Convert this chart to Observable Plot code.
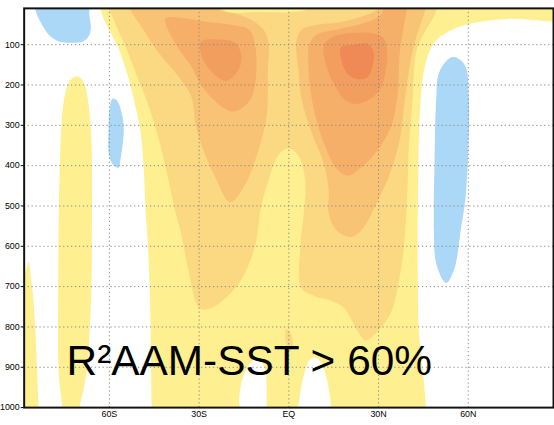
<!DOCTYPE html>
<html><head><meta charset="utf-8">
<script src="https://cdn.jsdelivr.net/npm/d3@7"></script>
<script src="https://cdn.jsdelivr.net/npm/@observablehq/plot@0.6"></script>
<style>
html,body{margin:0;padding:0;overflow:hidden;background:#fff;}
#chart{width:554px;height:425px;overflow:hidden;}
</style>
</head><body><div id="chart"></div>
<script>
// axis ticks
const latTicks = [-60, -30, 0, 30, 60];
const latLabels = ["60S", "30S", "EQ", "30N", "60N"];
const pTicks = [100, 200, 300, 400, 500, 600, 700, 800, 900, 1000];
const title = "R²AAM-SST > 60%";

// contour classes (neg = negative correlation, 1..6 = increasing R²)
const levels = ["neg", "1", "2", "3", "4", "5", "6"];
const levelColors = ["#acd8f8", "#fef090", "#fbd882", "#f8c375", "#f5af69", "#f29e5f", "#ef8a56"];

// contour outlines, [latitude, pressure hPa]
const y1FarLeft = [[-92,700],[-88.1,665],[-87,638],[-86.1,687],[-85.5,723],[-84.8,801],[-84.2,906],[-83.7,1000],[-83.5,1040],[-92,1040]];
const y1Column = [[-71.1,178],[-73.3,190],[-74.6,215],[-75.6,259],[-76.1,308],[-76.6,405],[-76.9,503],[-77.1,699],[-77.1,884],[-76.6,945],[-75.7,1000],[-75.7,1040],[-70,1040],[-70,1000],[-68.7,958],[-67.4,899],[-66.5,796],[-66,699],[-65.8,503],[-65.8,405],[-66.2,308],[-67,247],[-68,205],[-69.3,186]];
const y1Central = [[-63.4,-22],[92,-22],[92,34],[75.1,36],[66.8,40],[60.2,49],[54.6,63],[50.7,80],[48,102],[46.1,137],[44.7,186],[44.1,234],[43.6,308],[43.3,405],[43.1,601],[43.2,723],[43.4,801],[44.2,870],[45.1,931],[45.9,999],[46.1,1039],[14.2,1039],[14.1,999],[13.4,955],[11.8,906],[9.8,880],[8.5,875],[6.8,884],[5.2,914],[4,955],[3.2,999],[3.1,1039],[-7.4,1039],[-7.4,999],[-7.4,955],[-7.7,914],[-9,889],[-11.2,880],[-13.3,894],[-15.6,931],[-16.6,980],[-16.7,1039],[-45.8,1039],[-45.9,999],[-46.1,870],[-46.4,735],[-47.1,601],[-47.9,510],[-48.6,398],[-49.6,315],[-51.9,234],[-53.5,186],[-56.8,112],[-60.1,63],[-62.7,19]];
const o2Main = [[-60.8,-22],[-25.5,-22],[-21.2,17],[-10.7,19],[0.9,19],[5.8,12],[8.5,-22],[49.4,-22],[48.7,27],[46.4,56],[42.8,112],[41.4,234],[40.1,357],[39.5,491],[38.3,613],[36.6,694],[34.4,760],[30,809],[25.6,833],[22.9,809],[18.5,753],[14.1,735],[8.6,723],[4.2,704],[3.9,596],[5.2,503],[5.5,437],[3.1,374],[-0.2,357],[-3.5,374],[-6.8,437],[-9.3,503],[-11.2,596],[-15.6,679],[-21.1,728],[-26.6,755],[-29.9,753],[-33.7,655],[-35.9,572],[-38.3,503],[-40.9,413],[-43.6,332],[-46.9,252],[-51.3,168],[-54.6,105],[-58.5,39]];
const o2Spike = [[-0.8,805],[0.9,820],[1.2,850],[0.2,862],[-1.1,835]];
const o3South = [[-54.2,-22],[-23.2,-22],[-23.2,12],[-17.2,24],[-11.3,44],[-8,68],[-6.7,100],[-7,161],[-7.4,276],[-10,357],[-14.6,447],[-19.6,491],[-24.5,430],[-28.8,357],[-31.1,300],[-32.7,227],[-37,178],[-42.6,129],[-47.9,71]];
const o3North = [[2.5,93],[4.2,63],[9.1,51],[17.4,44],[25.6,27],[29.9,10],[31.6,-22],[46.4,-22],[45.4,19],[42.8,76],[40.8,137],[38.8,234],[37.2,332],[33.9,418],[30.6,474],[27.9,515],[25.6,547],[23,569],[20.7,577],[17.4,569],[14.7,547],[13.1,508],[13.4,467],[11.8,398],[7.5,315],[4.2,234],[3.2,161]];
const o4South = [[-41.3,36],[-35.4,34],[-27.2,44],[-18.9,51],[-13.3,63],[-11.2,105],[-11.2,193],[-13.4,242],[-18.9,266],[-25.5,234],[-29.9,193],[-32.6,154],[-38.1,95]];
const o4North = [[6.8,100],[9.1,76],[15.7,63],[24,49],[30.6,27],[33.2,-22],[39.8,-22],[38.8,39],[37.2,112],[36.2,234],[33.9,308],[28.9,369],[24,405],[19.7,425],[15.7,405],[12.4,357],[9.1,283],[7.2,210],[6.5,137]];
const o5South = [[-29.4,93],[-22.2,88],[-17.9,95],[-15.9,124],[-16.2,151],[-18.2,176],[-20.9,190],[-23.8,181],[-27.1,156],[-29.1,129]];
const o5North = [[11.8,100],[15.7,78],[21.7,71],[27.3,71],[31.6,83],[32.9,124],[32.2,173],[30.6,210],[27.3,234],[22.3,247],[18.4,234],[15.1,198],[12.4,149]];
const o6North = [[17.4,107],[21.7,100],[26.3,98],[28.3,117],[27.9,156],[26.3,181],[23,186],[19.7,173],[17.7,142]];
const bNorthWest = [[-85.5,-22],[-84.5,19],[-82.5,51],[-79.9,78],[-76.6,93],[-72.6,95],[-69,93],[-67,80],[-66.2,58],[-66.7,27],[-67.4,-22]];
const bSouthMid = [[-59,234],[-59.9,259],[-60.3,315],[-60.1,374],[-58.8,398],[-57,405],[-56.2,381],[-55.2,315],[-55.7,276],[-57.4,239]];
const bNorth = [[54.2,132],[50.3,168],[49.3,234],[48.7,398],[48.5,559],[49.3,643],[52.6,691],[55.3,657],[57.5,559],[59.1,479],[60.2,315],[60.2,234],[59.1,154],[56.6,134]];

const regions = [
  ["1", y1FarLeft], ["1", y1Column], ["1", y1Central],
  ["2", o2Main], ["2", o2Spike],
  ["3", o3South], ["3", o3North],
  ["4", o4South], ["4", o4North],
  ["5", o5South], ["5", o5North],
  ["6", o6North],
  ["neg", bNorthWest], ["neg", bSouthMid], ["neg", bNorth]
];
const rows = regions.flatMap(([level, pts], i) => pts.map(([lat, p]) => ({id: i, level, lat, p})));

const gridStyle = {stroke: "#8a8a8a", strokeOpacity: 1, strokeWidth: 1, strokeDasharray: "1.3,2.7"};

const chart = Plot.plot({
  width: 562, height: 425,
  marginTop: 8, marginBottom: 12, marginLeft: 24, marginRight: 1,
  style: {fontFamily: "'Liberation Sans', Arial, sans-serif", fontSize: "9px", background: "#fff", color: "#000"},
  x: {domain: [-88.5, 88.5]},
  y: {domain: [10, 1000], reverse: true},
  color: {domain: levels, range: levelColors},
  marks: [
    Plot.line(rows, {x: "lat", y: "p", z: "id", fill: "level", stroke: "none", curve: "catmull-rom-closed", clip: true}),
    Plot.gridX(latTicks, gridStyle),
    Plot.gridY(pTicks.slice(0, -1), gridStyle),
    Plot.frame({stroke: "#111", strokeWidth: 2}),
    Plot.axisY(pTicks, {tickSize: 3, tickPadding: 1.5, fontSize: 9, tickFormat: d => String(d), label: null}),
    Plot.axisX(latTicks, {tickSize: 0, tickPadding: 3.5, fontSize: 9, tickFormat: d => latLabels[latTicks.indexOf(d)], label: null}),
    Plot.text([title], {text: d => d, frameAnchor: "bottom-left", dx: 43, dy: -33, lineAnchor: "bottom", textAnchor: "start", fontSize: 43, fill: "#000"})
  ]
});
document.getElementById("chart").appendChild(chart);
</script>
</body></html>
